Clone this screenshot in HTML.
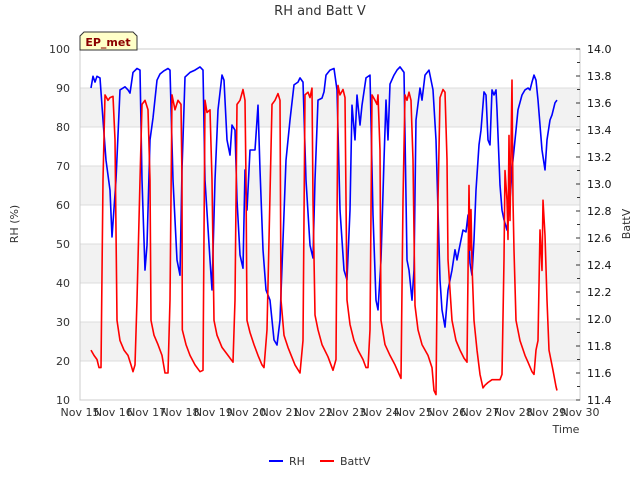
<!DOCTYPE html>
<html><head><meta charset="utf-8"><style>
body{margin:0;background:#fff;font-family:"Liberation Sans","DejaVu Sans",sans-serif}
svg text{font-family:"DejaVu Sans","Liberation Sans",sans-serif}
</style></head><body>
<svg id="chart" width="640" height="480" viewBox="0 0 640 480" xmlns="http://www.w3.org/2000/svg">
<text x="320" y="15" text-anchor="middle" font-size="13" fill="#333">RH and Batt V</text>
<g id="grid"></g>
<g id="axes"></g>
<g id="series"></g>
<g>
<path d="M80,50 L80,36 L84,32 L133,32 L137,36 L137,50 Z" fill="#ffffc8" stroke="#333" stroke-width="1"/>
<text x="108" y="46" text-anchor="middle" font-size="11" font-weight="bold" fill="#8b0000">EP_met</text>
</g>
<text x="566" y="433" text-anchor="middle" font-size="11" fill="#333">Time</text>
<text transform="translate(18,224) rotate(-90)" text-anchor="middle" font-size="11" fill="#333">RH (%)</text>
<text transform="translate(630,224) rotate(-90)" text-anchor="middle" font-size="11" fill="#333">BattV</text>
<g><line x1="269" y1="461" x2="283" y2="461" stroke="#0000ff" stroke-width="2"/><text x="289" y="465" font-size="11" fill="#333">RH</text></g>
<g><line x1="320" y1="461" x2="334" y2="461" stroke="#ff0000" stroke-width="2"/><text x="340" y="465" font-size="11" fill="#333">BattV</text></g>
</svg>
<script>
const xTicks=[15,16,17,18,19,20,21,22,23,24,25,26,27,28,29,30];
const rhTicks=[10,20,30,40,50,60,70,80,90,100];
const battTicks=[11.4,11.6,11.8,12.0,12.2,12.4,12.6,12.8,13.0,13.2,13.4,13.6,13.8,14.0];
const rhDays=[15.33,15.39,15.45,15.51,15.6,15.69,15.78,15.9,15.96,16.08,16.2,16.35,16.44,16.5,16.59,16.71,16.8,16.86,16.95,17.01,17.1,17.19,17.31,17.4,17.52,17.64,17.7,17.79,17.91,18.0,18.06,18.15,18.3,18.45,18.6,18.69,18.75,18.9,18.96,19.05,19.14,19.26,19.32,19.41,19.5,19.56,19.65,19.71,19.8,19.89,19.95,20.01,20.1,20.25,20.34,20.4,20.49,20.58,20.7,20.82,20.91,21.0,21.09,21.18,21.3,21.42,21.54,21.6,21.69,21.78,21.9,21.99,22.05,22.14,22.26,22.32,22.38,22.5,22.62,22.71,22.8,22.92,23.01,23.1,23.16,23.25,23.31,23.4,23.46,23.58,23.7,23.79,23.88,23.94,24.03,24.12,24.18,24.24,24.3,24.42,24.51,24.6,24.72,24.81,24.87,24.96,25.02,25.08,25.2,25.26,25.35,25.47,25.59,25.68,25.8,25.86,25.95,26.04,26.16,26.25,26.31,26.37,26.49,26.58,26.64,26.7,26.76,26.82,26.88,26.97,27.03,27.12,27.18,27.24,27.3,27.36,27.42,27.48,27.51,27.6,27.66,27.72,27.81,27.9,27.96,28.08,28.14,28.26,28.35,28.44,28.5,28.56,28.62,28.68,28.74,28.86,28.95,29.01,29.1,29.16,29.25,29.31];
const rhValues=[90,93,91.5,93,92.6,81.8,71.5,63.8,51.8,66.4,89.5,90.3,89.5,88.7,94,95,94.6,66.4,43.3,49.7,76.7,82.3,92,93.6,94.4,95,94.6,66.4,45.9,42,69,92.8,94,94.6,95.4,94.6,66.4,45.9,38.2,66.4,84.4,93.3,92,76.7,72.8,80.5,79.2,61.3,47.2,43.8,69,58.7,74.1,74.1,85.6,69,48.5,38.2,35.6,25.4,24.1,30.5,51,71.5,81.8,90.8,91.5,92.6,91.5,66.4,49.7,46.4,66.4,86.9,87.4,89,93.3,94.6,95,89.5,58.7,43.3,40.8,58.7,85.6,76.7,88.2,80.5,85.6,92.6,93.3,57.4,35.6,33.1,45.9,71.5,86.9,76.7,91,93.3,94.6,95.4,94,45.9,43.3,35.6,43.3,81.8,90,86.9,93.3,94.6,89.5,76.7,40.8,33.1,28.7,38.2,43.3,48.5,45.9,48.5,53.6,53.1,57.4,45.1,42,51,63.8,75.4,79.2,89,88.2,76.7,75.4,89.5,88.2,89.5,84.4,65.1,58.7,56.2,53.6,61.3,69,79.2,84.4,88.2,89.5,90,89.5,91.5,93.3,92,86.9,74.1,69,76.7,81.8,83.1,86.2,86.9];
const battDays=[15.33,15.42,15.51,15.57,15.63,15.69,15.75,15.84,15.9,15.99,16.05,16.11,16.2,16.32,16.44,16.53,16.59,16.65,16.71,16.8,16.86,16.95,17.04,17.1,17.13,17.22,17.34,17.46,17.55,17.64,17.7,17.76,17.85,17.94,18.03,18.06,18.07,18.18,18.3,18.45,18.6,18.69,18.75,18.81,18.9,18.96,19.02,19.11,19.26,19.44,19.59,19.65,19.71,19.8,19.89,19.95,19.98,20.01,20.1,20.22,20.34,20.46,20.52,20.61,20.76,20.85,20.94,21.0,21.03,21.12,21.24,21.45,21.6,21.69,21.75,21.84,21.9,21.96,21.99,22.05,22.14,22.26,22.44,22.59,22.68,22.74,22.8,22.89,22.95,23.01,23.1,23.22,23.34,23.49,23.58,23.64,23.7,23.76,23.85,23.91,23.94,24.0,24.03,24.15,24.3,24.45,24.54,24.63,24.69,24.75,24.81,24.87,24.93,24.99,25.05,25.14,25.26,25.44,25.56,25.62,25.68,25.74,25.8,25.89,25.95,26.01,26.04,26.16,26.28,26.4,26.52,26.61,26.67,26.7,26.73,26.76,26.82,26.91,27.0,27.09,27.15,27.24,27.36,27.48,27.6,27.66,27.72,27.75,27.81,27.84,27.87,27.9,27.96,27.99,28.02,28.08,28.2,28.35,28.44,28.56,28.62,28.68,28.74,28.8,28.86,28.89,28.95,29.01,29.07,29.19,29.28,29.31];
const battValues=[11.77,11.73,11.70,11.64,11.64,13.03,13.66,13.62,13.64,13.65,13.33,11.99,11.84,11.77,11.73,11.66,11.61,11.66,12.14,13.03,13.59,13.62,13.55,13.03,11.99,11.88,11.81,11.73,11.60,11.60,12.14,13.66,13.55,13.62,13.59,13.03,11.92,11.81,11.73,11.66,11.61,11.62,13.62,13.53,13.55,13.03,11.99,11.88,11.79,11.73,11.68,12.14,13.59,13.62,13.70,13.62,13.03,11.99,11.90,11.81,11.73,11.66,11.64,11.92,13.59,13.62,13.67,13.62,12.14,11.88,11.79,11.66,11.60,11.84,13.66,13.68,13.64,13.71,12.88,12.03,11.92,11.81,11.72,11.62,11.70,13.73,13.66,13.70,13.64,12.14,11.96,11.84,11.77,11.70,11.64,11.64,11.92,13.66,13.62,13.59,13.66,13.25,11.99,11.81,11.73,11.66,11.61,11.56,12.88,13.66,13.62,13.68,13.62,13.18,12.10,11.92,11.81,11.73,11.64,11.47,11.44,12.88,13.64,13.70,13.68,13.18,12.44,11.99,11.84,11.77,11.71,11.68,12.99,12.51,12.81,12.40,11.99,11.77,11.59,11.49,11.51,11.53,11.55,11.55,11.55,11.59,12.44,13.10,12.88,12.59,13.36,12.73,13.77,12.88,12.51,11.99,11.84,11.73,11.68,11.61,11.59,11.77,11.84,12.66,12.36,12.88,12.62,12.14,11.77,11.62,11.50,11.47];
const L=80,R=580,T=49,B=400;
const xS=d=>L+(d-15)/15*(R-L);
const yRH=v=>B-(v-10)/90*(B-T);
const yB=v=>B-(v-11.4)/2.6*(B-T);
const NS="http://www.w3.org/2000/svg";
function mk(tag,attrs,parent,txt){const e=document.createElementNS(NS,tag);for(const k in attrs)e.setAttribute(k,attrs[k]);if(txt!==undefined)e.textContent=txt;parent.appendChild(e);return e;}
const grid=document.getElementById('grid'),axes=document.getElementById('axes'),series=document.getElementById('series');
[20,40,60,80].forEach(v=>{const r=mk('rect',{x:L,y:yRH(v+10),width:R-L,height:yRH(v)-yRH(v+10),fill:'#f2f2f2'},grid);

});
rhTicks.forEach(v=>{const l=mk('line',{x1:L,x2:R,y1:yRH(v),y2:yRH(v),stroke:'#dcdcdc','stroke-width':1},grid);


const t=mk('text',{x:L-10,y:yRH(v)+4,'text-anchor':'end','font-size':11,fill:'#333'},axes,String(v));

});
mk('rect',{x:L,y:T,width:R-L,height:B-T,fill:'none',stroke:'#ccc'},axes);
battTicks.forEach(v=>{const t=mk('text',{x:R+7,y:yB(v)+4,'font-size':11,fill:'#111'},axes,v.toFixed(1));


mk('line',{x1:R-4,x2:R,y1:yB(v),y2:yB(v),stroke:'#333'},axes);
if(v<14)mk('line',{x1:R-3,x2:R,y1:yB(v+0.1),y2:yB(v+0.1),stroke:'#333'},axes);});
xTicks.forEach(d=>{const t=mk('text',{x:xS(d),y:416,'text-anchor':'middle','font-size':11,fill:'#333'},axes,'Nov '+d);

});
const rhPath=rhDays.map((d,i)=>(i?'L':'M')+xS(d).toFixed(1)+','+yRH(rhValues[i]).toFixed(1)).join('');
const bPath=battDays.map((d,i)=>(i?'L':'M')+xS(d).toFixed(1)+','+yB(battValues[i]).toFixed(1)).join('');
const p1=mk('path',{d:rhPath,fill:'none',stroke:'#0000ff','stroke-width':1.6,'stroke-linejoin':'round'},series);


const p2=mk('path',{d:bPath,fill:'none',stroke:'#ff0000','stroke-width':1.6,'stroke-linejoin':'round'},series);


</script>
</body></html>
